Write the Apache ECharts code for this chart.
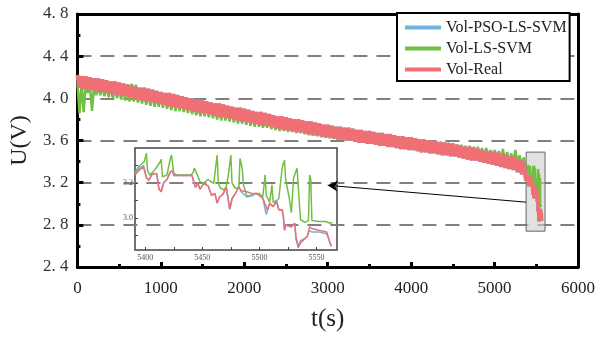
<!DOCTYPE html>
<html><head><meta charset="utf-8">
<script src="https://cdn.jsdelivr.net/npm/echarts@6/dist/echarts.min.js"></script>
<style>html,body{margin:0;padding:0;background:#fff}#c{width:604px;height:337px}</style>
</head><body><div id="c"></div>
<script>
// ---- main-range readings (sample step 50 s; hi at t=50k, lo at t=50k+25) ----
const mainStep = 50;
const realHi = [4.22,4.21,4.21,4.20,4.19,4.19,4.18,4.17,4.16,4.16,
4.15,4.14,4.13,4.12,4.11,4.10,4.10,4.09,4.08,4.07,
4.06,4.05,4.05,4.04,4.03,4.02,4.01,4.00,3.99,3.99,
3.98,3.97,3.96,3.95,3.95,3.94,3.93,3.92,3.91,3.91,
3.90,3.89,3.88,3.87,3.87,3.86,3.85,3.84,3.83,3.83,
3.82,3.81,3.80,3.80,3.79,3.78,3.78,3.77,3.76,3.75,
3.75,3.74,3.73,3.73,3.72,3.72,3.71,3.70,3.70,3.69,
3.69,3.68,3.67,3.67,3.66,3.66,3.65,3.64,3.64,3.63,
3.63,3.62,3.61,3.61,3.60,3.60,3.59,3.58,3.58,3.57,
3.57,3.56,3.55,3.54,3.54,3.53,3.52,3.51,3.50,3.50,
3.49,3.48,3.47,3.46,3.45,3.44,3.42,3.40];
const realLo = [4.10,4.09,4.09,4.08,4.07,4.06,4.06,4.05,4.04,4.03,
4.03,4.02,4.01,4.00,3.99,3.98,3.97,3.97,3.96,3.95,
3.94,3.93,3.92,3.92,3.91,3.90,3.89,3.88,3.87,3.86,
3.86,3.85,3.84,3.83,3.82,3.82,3.81,3.80,3.79,3.78,
3.78,3.77,3.76,3.75,3.74,3.74,3.73,3.72,3.71,3.70,
3.70,3.69,3.68,3.68,3.67,3.66,3.65,3.65,3.64,3.63,
3.63,3.62,3.61,3.61,3.60,3.60,3.59,3.58,3.58,3.57,
3.57,3.56,3.55,3.55,3.54,3.54,3.53,3.52,3.52,3.51,
3.51,3.50,3.49,3.49,3.48,3.48,3.47,3.46,3.46,3.45,
3.45,3.44,3.43,3.42,3.41,3.41,3.40,3.39,3.38,3.37,
3.36,3.35,3.34,3.33,3.32,3.30,3.28,3.22];
const lssvmHi = [4.15,4.14,4.14,4.13,4.13,4.12,4.12,4.11,4.10,4.10,
4.09,4.09,4.10,4.14,4.13,4.06,4.05,4.04,4.03,4.02,
4.02,4.01,4.00,3.99,3.98,3.98,3.97,3.96,3.95,3.94,
3.94,3.93,3.92,3.91,3.90,3.90,3.89,3.88,3.87,3.87,
3.86,3.85,3.84,3.84,3.83,3.82,3.82,3.81,3.80,3.80,
3.79,3.78,3.78,3.77,3.76,3.76,3.75,3.75,3.74,3.73,
3.73,3.72,3.72,3.71,3.71,3.70,3.70,3.69,3.69,3.68,
3.68,3.67,3.66,3.66,3.65,3.65,3.64,3.64,3.63,3.63,
3.62,3.62,3.61,3.61,3.60,3.60,3.59,3.59,3.58,3.58,
3.57,3.56,3.56,3.55,3.55,3.54,3.54,3.53,3.53,3.51,
3.51,3.50,3.52,3.49,3.48,3.51,3.46,3.44];
const lssvmLo = [3.86,3.87,4.05,3.88,4.03,4.03,4.02,4.01,4.00,4.00,
3.99,3.98,3.97,3.97,3.96,3.95,3.94,3.93,3.92,3.92,
3.91,3.90,3.89,3.88,3.88,3.87,3.86,3.85,3.84,3.83,
3.83,3.82,3.81,3.80,3.79,3.79,3.78,3.77,3.76,3.76,
3.75,3.74,3.73,3.73,3.72,3.72,3.71,3.70,3.69,3.69,
3.68,3.68,3.67,3.67,3.66,3.65,3.65,3.64,3.63,3.63,
3.62,3.62,3.61,3.61,3.60,3.60,3.59,3.58,3.58,3.57,
3.57,3.56,3.55,3.55,3.54,3.54,3.53,3.53,3.52,3.52,
3.51,3.51,3.50,3.50,3.49,3.49,3.48,3.48,3.47,3.47,
3.46,3.46,3.45,3.45,3.44,3.44,3.43,3.43,3.42,3.42,
3.41,3.41,3.40,3.39,3.38,3.37,3.35,3.30];

// ---- end-of-discharge readings (from the zoomed inset) ----
const tReal = [5391,5395,5398.5,5401,5403,5406,5410,5412,5414,5416,5419,5422,5424,5425,5441,5442,5444,5446,5448,5451,5455,5458,5461,5463,5465,5468,5471,5474,5476,5479,5482,5484,5489,5493,5497,5500,5503,5506,5507,5509,5512,5515,5517,5520,5521,5522,5523,5528,5531,5532,5534,5536,5539,5542,5544,5546,5552,5559,5561,5563];
const vReal = [3.245,3.275,3.29,3.23,3.215,3.25,3.255,3.165,3.15,3.2,3.22,3.265,3.27,3.243,3.243,3.217,3.175,3.2,3.165,3.195,3.185,3.13,3.14,3.085,3.12,3.135,3.175,3.05,3.11,3.14,3.18,3.155,3.15,3.14,3.14,3.13,3.112,3.065,3.046,3.084,3.065,3.093,3.046,3.046,3.008,2.93,2.96,2.95,2.97,2.895,2.83,2.857,2.876,2.895,2.95,2.94,2.93,2.92,2.876,2.838];
const vPso  = [3.25,3.285,3.30,3.235,3.215,3.25,3.255,3.165,3.15,3.2,3.22,3.265,3.27,3.243,3.243,3.217,3.175,3.2,3.165,3.195,3.185,3.13,3.14,3.085,3.12,3.135,3.175,3.05,3.11,3.14,3.18,3.15,3.12,3.125,3.14,3.13,3.112,3.02,3.02,3.084,3.065,3.10,3.05,3.046,3.008,2.93,2.96,2.95,2.97,2.88,2.84,2.87,2.88,2.895,2.93,2.92,2.92,2.91,2.876,2.838];
const tLssvm = [5391,5395,5399,5401,5402,5404,5407,5410,5413,5414,5415,5419,5422,5423,5425,5428,5440,5442,5443,5446,5448,5451,5455,5457,5460,5463,5464,5466,5469,5471,5473,5475,5476,5479,5482,5483,5485,5486,5489,5493,5497,5500,5503,5505,5506,5509,5511,5512,5515,5517,5520,5522,5523,5526,5528,5530,5533,5534,5536,5537,5540,5543,5544,5545,5546,5552,5558,5562,5564];
const vLssvm = [3.26,3.30,3.32,3.37,3.27,3.245,3.265,3.29,3.32,3.335,3.236,3.246,3.34,3.36,3.255,3.246,3.246,3.26,3.285,3.24,3.207,3.198,3.22,3.21,3.198,3.36,3.198,3.17,3.16,3.18,3.255,3.36,3.2,3.17,3.17,3.34,3.28,3.19,3.125,3.13,3.14,3.14,3.12,3.246,3.13,3.09,3.19,3.09,3.10,3.11,3.29,3.33,3.22,3.12,3.03,3.23,3.284,3.29,2.99,2.98,2.975,2.985,3.246,3.22,2.985,2.98,2.98,2.97,2.975];

// ---- axis ticks / annotation (data space) ----
const insetXLabels = [5400,5450,5500,5550];
const insetXTicks = [5400,5425,5450,5475,5500,5525,5550];
const insetYLabels = [3.0,3.2];
const insetYTicks = [2.9,3.0,3.1,3.2,3.3];
const zoomBox = [[5378,3.49],[5605,2.74]];
const arrowFromTo = [[5378,3.015],[3000,3.175]];

function zigzag(hi, lo){
  const out = [];
  for (let k=0;k<hi.length;k++){ out.push([k*mainStep,hi[k]]); out.push([k*mainStep+mainStep/2,lo[k]]); }
  return out;
}
function pairs(t,v){ return t.map((x,i)=>[x,v[i]]); }

const realMain = zigzag(realHi, realLo).concat(pairs(tReal,vReal));
const psoMain = zigzag(realHi, realLo).concat(pairs(tReal,vPso));
const lssvmMain = zigzag(lssvmHi, lssvmLo).concat(pairs(tLssvm,vLssvm));

const C_BLUE='#6fb3df', C_GREEN='#6fc040', C_RED='#ef6f74';
const SERIF="'Liberation Serif','DejaVu Serif',serif";
const plain = v => String(v);

const chart = echarts.init(document.getElementById('c'), null, {renderer:'canvas'});
chart.setOption({
  animation:false,
  grid:[
    {left:76,top:14,width:502,height:254,show:false},
    {left:135,top:148,width:202,height:102,show:true,borderColor:'#444',borderWidth:1.5,backgroundColor:'transparent'}
  ],
  legend:{
    left:397,top:13,orient:'vertical',
    data:['Vol-PSO-LS-SVM','Vol-LS-SVM','Vol-Real'],
    icon:'rect',itemWidth:36,itemHeight:4,itemGap:4,
    padding:[6,3,3,8],
    backgroundColor:'#fff',borderColor:'#000',borderWidth:2,
    textStyle:{fontFamily:SERIF,fontSize:16,color:'#222',lineHeight:17}
  },
  xAxis:[
    {gridIndex:0,type:'value',min:0,max:6000,interval:1000,
      name:'t(s)',nameLocation:'middle',nameGap:40,
      nameTextStyle:{fontFamily:SERIF,fontSize:25,color:'#222'},
      axisLine:{lineStyle:{color:'#000',width:3}},
      axisTick:{inside:true,length:5,lineStyle:{color:'#000',width:3}},
      minorTick:{show:true,splitNumber:2,length:3,lineStyle:{color:'#000',width:3}},
      axisLabel:{fontFamily:SERIF,fontSize:17,color:'#222',margin:13,formatter:plain},
      splitLine:{show:false}},
    {gridIndex:1,type:'value',min:5391,max:5568,
      axisLine:{show:false},
      axisTick:{inside:true,length:3,customValues:insetXTicks,lineStyle:{color:'#444',width:1}},
      axisLabel:{customValues:insetXLabels,fontFamily:SERIF,fontSize:8,color:'#555',margin:4,formatter:plain},
      splitLine:{show:false}},
    {gridIndex:0,type:'value',position:'top',min:0,max:6000,
      axisLine:{onZero:false,lineStyle:{color:'#000',width:3}},
      axisTick:{show:false},axisLabel:{show:false},splitLine:{show:false}}
  ],
  yAxis:[
    {gridIndex:0,type:'value',min:2.4,max:4.8,interval:0.4,
      name:'U(V)',nameLocation:'middle',nameGap:41,nameRotate:90,
      nameTextStyle:{fontFamily:SERIF,fontSize:24,color:'#222'},
      axisLine:{lineStyle:{color:'#000',width:3}},
      axisTick:{inside:true,length:6,lineStyle:{color:'#000',width:3}},
      minorTick:{show:true,splitNumber:2,length:3,lineStyle:{color:'#000',width:3}},
      axisLabel:{fontFamily:SERIF,fontSize:17,color:'#333',margin:9,
        formatter:v=>v.toFixed(1).replace('.','. ')},
      splitLine:{show:true,lineStyle:{color:'#808080',width:2,type:[14,9]}}},
    {gridIndex:1,type:'value',min:2.817,max:3.4,
      axisLine:{show:false},
      axisTick:{inside:true,length:3,customValues:insetYTicks,lineStyle:{color:'#444',width:1}},
      axisLabel:{customValues:insetYLabels,fontFamily:SERIF,fontSize:8,color:'#555',margin:2,
        formatter:v=>v.toFixed(1)},
      splitLine:{show:false}},
    {gridIndex:0,type:'value',position:'right',min:2.4,max:4.8,
      axisLine:{onZero:false,lineStyle:{color:'#000',width:3}},
      axisTick:{show:false},axisLabel:{show:false},splitLine:{show:false}}
  ],
  series:[
    {name:'Vol-LS-SVM',type:'line',xAxisIndex:0,yAxisIndex:0,data:lssvmMain,showSymbol:false,z:2,
      lineStyle:{color:C_GREEN,width:2.5},itemStyle:{color:C_GREEN}},
    {name:'Vol-PSO-LS-SVM',type:'line',xAxisIndex:0,yAxisIndex:0,data:psoMain,showSymbol:false,z:3,
      lineStyle:{color:C_BLUE,width:3.5},itemStyle:{color:C_BLUE}},
    {name:'Vol-Real',type:'line',xAxisIndex:0,yAxisIndex:0,data:realMain,showSymbol:false,z:4,
      lineStyle:{color:C_RED,width:3.8},itemStyle:{color:C_RED}},
    {name:'box',type:'line',xAxisIndex:0,yAxisIndex:0,data:[],z:10,silent:true,
      markArea:{silent:true,itemStyle:{color:'rgba(205,205,205,0.6)',borderColor:'#666',borderWidth:1},
        data:[[{coord:zoomBox[0]},{coord:zoomBox[1]}]]},
      markLine:{silent:true,symbol:['none','arrow'],symbolSize:[8,10],
        lineStyle:{color:'#000',width:1,type:'solid'},label:{show:false},
        data:[[{coord:arrowFromTo[0]},{coord:arrowFromTo[1]}]]}},
    {name:'Vol-LS-SVM',type:'line',xAxisIndex:1,yAxisIndex:1,data:pairs(tLssvm,vLssvm),showSymbol:false,z:5,
      lineStyle:{color:C_GREEN,width:1.5},itemStyle:{color:C_GREEN}},
    {name:'Vol-PSO-LS-SVM',type:'line',xAxisIndex:1,yAxisIndex:1,data:pairs(tReal,vPso),showSymbol:false,z:6,
      lineStyle:{color:C_BLUE,width:1.5},itemStyle:{color:C_BLUE}},
    {name:'Vol-Real',type:'line',xAxisIndex:1,yAxisIndex:1,data:pairs(tReal,vReal),showSymbol:false,z:7,
      lineStyle:{color:C_RED,width:1.5},itemStyle:{color:C_RED}}
  ]
});
</script></body></html>
